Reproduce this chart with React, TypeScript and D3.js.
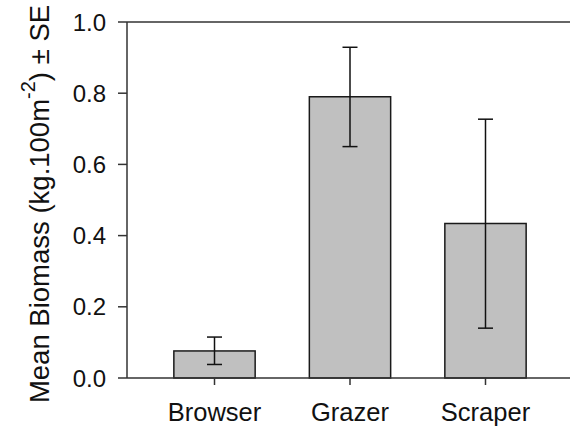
import React from "react";
import * as d3 from "d3";

const categories = ["Browser", "Grazer", "Scraper"];
const means = [0.076, 0.79, 0.434];
const seLow = [0.038, 0.65, 0.14];
const seHigh = [0.115, 0.929, 0.727];
const yTicks = [0.0, 0.2, 0.4, 0.6, 0.8, 1.0];

const W = 570;
const H = 428;
const x0 = 127;
const x1 = 573;
const yTop = 22;
const yBottom = 378;
const FONT = "'Liberation Sans', Arial, Helvetica, sans-serif";

export default function App() {
  const x = d3.scaleBand<string>().domain(categories).range([x0, x1]).paddingInner(0.4).paddingOuter(0.3458);
  const y = d3.scaleLinear().domain([0, 1]).range([yBottom, yTop]);
  const bw = x.bandwidth();
  const capW = 15;
  return (
    <svg width={W} height={H} style={{ position: "absolute", left: 0, top: 0, background: "#fff" }} fontFamily={FONT}>
      {categories.map((c, i) => {
        const cx = (x(c) as number) + bw / 2;
        return (
          <g key={c}>
            <rect x={x(c)} y={y(means[i])} width={bw} height={y(0) - y(means[i])} fill="#c0c0c0" stroke="#1a1a1a" strokeWidth={1.5} />
            <line x1={cx} x2={cx} y1={y(seLow[i])} y2={y(seHigh[i])} stroke="#111" strokeWidth={1.5} />
            <line x1={cx - capW / 2} x2={cx + capW / 2} y1={y(seLow[i])} y2={y(seLow[i])} stroke="#111" strokeWidth={1.5} />
            <line x1={cx - capW / 2} x2={cx + capW / 2} y1={y(seHigh[i])} y2={y(seHigh[i])} stroke="#111" strokeWidth={1.5} />
            <line x1={cx} x2={cx} y1={yBottom} y2={yBottom + 7} stroke="#333" strokeWidth={1.5} />
            <text x={cx} y={421} textAnchor="middle" fontSize={25.5} fill="#111">{c}</text>
          </g>
        );
      })}
      <line x1={x0} x2={W} y1={yTop} y2={yTop} stroke="#333" strokeWidth={1.5} />
      <line x1={x0} x2={W} y1={yBottom} y2={yBottom} stroke="#333" strokeWidth={1.5} />
      <line x1={x0} x2={x0} y1={yTop} y2={yBottom} stroke="#333" strokeWidth={1.5} />
      {yTicks.map((t) => (
        <g key={t}>
          <line x1={x0 - 9} x2={x0} y1={y(t)} y2={y(t)} stroke="#333" strokeWidth={1.5} />
          <text x={106} y={y(t)} dy="0.36em" textAnchor="end" fontSize={24} fill="#111">{d3.format(".1f")(t)}</text>
        </g>
      ))}
      <text transform={`translate(49,204) rotate(-90)`} textAnchor="middle" fontSize={27.5} fill="#111">
        Mean Biomass (kg.100m<tspan fontSize={20} dy={-14}>-2</tspan><tspan dy={14}>) ± SE</tspan>
      </text>
    </svg>
  );
}
